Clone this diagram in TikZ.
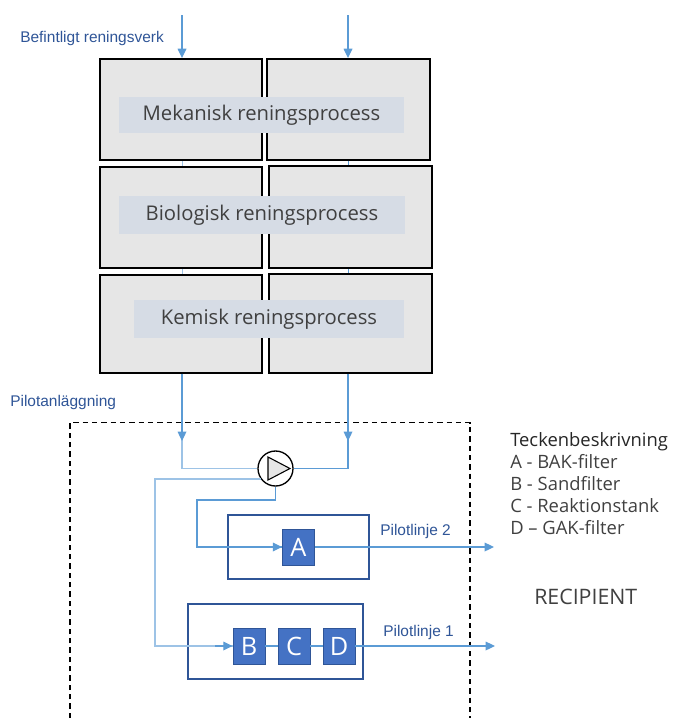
\documentclass[tikz,border=0pt]{standalone}
\usepackage{fontspec}
\setmainfont{Open Sans}
\newfontfamily\arialfont{Liberation Sans}
\usetikzlibrary{arrows.meta}
\definecolor{boxgray}{HTML}{E6E6E6}
\definecolor{bandblue}{HTML}{D6DCE5}
\definecolor{flow}{HTML}{5B9BD5}
\definecolor{flowlight}{HTML}{9DC3E6}
\definecolor{labelblue}{HTML}{2F5597}
\definecolor{unitblue}{HTML}{4472C4}
\definecolor{txtgray}{HTML}{404040}
\definecolor{titlegray}{HTML}{262626}
\begin{document}
\begin{tikzpicture}[x=0.75pt,y=-0.75pt,
  proc/.style={draw=black, fill=boxgray, line width=1.4pt, inner sep=0},
  band/.style={fill=bandblue, inner sep=0, text=txtgray, font=\fontsize{15.2}{18}\selectfont},
  unit/.style={fill=unitblue, draw=labelblue, line width=0.6pt, text=white, inner sep=0,
    minimum width=24pt, minimum height=27pt, font=\fontsize{19}{22}\selectfont},
  lineframe/.style={draw=labelblue, line width=1.1pt, inner sep=0},
  flowline/.style={draw=flow, line width=0.9pt},
  lightline/.style={draw=flowlight, line width=0.9pt},
  arr/.style={-{Triangle[width=6.5pt,length=7pt]}, flow},
  lbl/.style={inner sep=0, text=labelblue, font=\arialfont\fontsize{11.6}{13}\selectfont},
  legtxt/.style={inner sep=0, anchor=base west, text=txtgray, font=\fontsize{13.8}{16}\selectfont},
  dashframe/.style={draw=black, line width=1.1pt, dash pattern=on 4pt off 3pt}
]
\useasboundingbox (0,0) rectangle (674,718);

% labels
\node[lbl, anchor=west] (befl) at (20,38) {Befintligt reningsverk};
\node[lbl, anchor=west] (pilotl) at (10,402) {Pilotanläggning};

% inflow coordinates
\coordinate (inL) at (182,15);
\coordinate (inR) at (348,15);

% process boxes
\node[proc, minimum width=121.5pt, minimum height=75.75pt] (L1) at (181,109.5) {};
\node[proc, minimum width=122.25pt, minimum height=75.75pt] (R1) at (348.5,109.5) {};
\node[proc, minimum width=121.5pt, minimum height=75.75pt] (L2) at (181,217.5) {};
\node[proc, minimum width=122.25pt, minimum height=76.5pt] (R2) at (350.5,217) {};
\node[proc, minimum width=121.5pt, minimum height=73.5pt] (L3) at (181,324) {};
\node[proc, minimum width=122.25pt, minimum height=74.25pt] (R3) at (350.5,323.5) {};

\node[band, minimum width=213.75pt, minimum height=27pt] (b1) at (261.5,115) {Mekanisk reningsprocess};
\node[band, minimum width=214.5pt, minimum height=28.5pt] (b2) at (262,215) {Biologisk reningsprocess};
\node[band, minimum width=202.5pt, minimum height=28.5pt] (b3) at (269,319) {Kemisk reningsprocess};

% top arrows
\draw[flowline, arr] (inL) -- (inL |- L1.north);
\draw[flowline, arr] (inR) -- (inR |- R1.north);
% thin lines in gaps
\draw[flowlight, line width=0.6pt] (inL |- L1.south) -- (inL |- L2.north);
\draw[flowlight, line width=0.6pt] (inL |- L2.south) -- (inL |- L3.north);
\draw[flow, line width=0.6pt] (inR |- R1.south) -- (inR |- R2.north);
\draw[flow, line width=0.6pt] (inR |- R2.south) -- (inR |- R3.north);

% dashed pilot frame
\draw[dashframe] (70,718) -- (70,422.5) -- (470,422.5) -- (470,718);

% pump
\node[circle, draw=black, fill=white, line width=1pt, minimum size=26.25pt, inner sep=0] (pump) at (275.5,468.5) {};
\draw[fill=boxgray, line width=0.8pt] ([shift={(-7.5,-11.5)}]pump.center) -- ([shift={(14.5,0)}]pump.center) -- ([shift={(-7.5,11.5)}]pump.center) -- cycle;

\coordinate (aL) at (182,441);
\coordinate (aR) at (348,441);
\coordinate (jL) at (182,468.5);
\coordinate (jR) at (348,468.5);
\draw[lightline] (inL |- L3.south) -- (jL) -- (pump.west);
\draw[flowline] (inR |- R3.south) -- (jR) -- (pump.east);
\draw[lightline, arr] (inL |- L3.south) -- (aL);
\draw[flowline, arr] (inR |- R3.south) -- (aR);

% pilot line 2
\node[lineframe, minimum width=105.75pt, minimum height=48pt] (P2) at (298.5,547) {};
\node[unit] (A) at (298.5,547) {A};
\node[lbl, anchor=west] (p2l) at (380,531) {Pilotlinje 2};

% pilot line 1
\node[lineframe, minimum width=131.25pt, minimum height=56.25pt] (P1) at (275.5,641.5) {};
\node[unit] (B) at (249,646) {B};
\node[unit] (C) at (294,646) {C};
\node[unit] (D) at (339,646) {D};
\node[lbl, anchor=west] (p1l) at (383,632) {Pilotlinje 1};

% pump outlets
\coordinate (kB) at (155,646);
\coordinate (kA) at (197,500);
\draw[lightline] (pump.215) -| (kB) -- (B.west);
\draw[arr, line width=0.9pt] (215,646) -- (B.west);
\draw[flowline] (pump.south) |- (kA) |- (A.west);
\draw[arr, line width=0.9pt] (255,547) -- (A.west);

\draw[flowline] (B.east) -- (C.west);
\draw[flowline] (C.east) -- (D.west);

% outflows
\coordinate (oA) at (494,547);
\coordinate (oD) at (495,646);
\draw[flowline, arr] (A.east) -- (oA);
\draw[flowline, arr] (D.east) -- (oD);

% legend
\node[legtxt, text=titlegray] (leg0) at (510,446) {Teckenbeskrivning};
\node[legtxt] (leg1) at (510,468) {A - BAK-filter};
\node[legtxt] (leg2) at (510,490.5) {B - Sandfilter};
\node[legtxt] (leg3) at (510,512.5) {C - Reaktionstank};
\node[legtxt] (leg4) at (510,534.5) {D – GAK-filter};

\node[inner sep=0, anchor=base west, text=txtgray, font=\fontsize{16}{19}\selectfont] (recip) at (534,604) {RECIPIENT};
\end{tikzpicture}
\end{document}
